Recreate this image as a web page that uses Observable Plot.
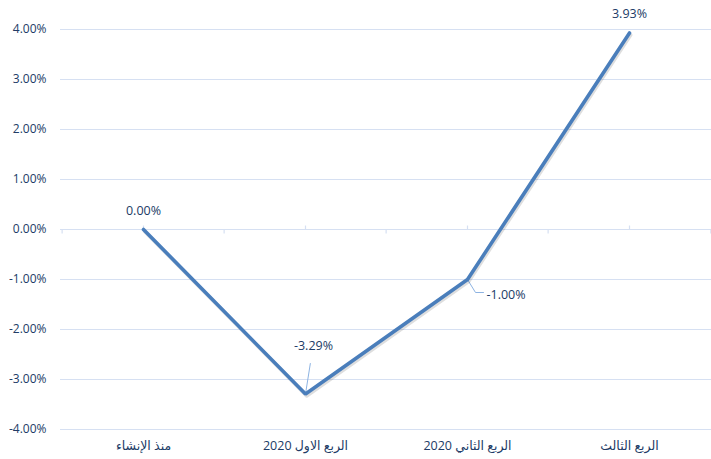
<!DOCTYPE html>
<html><head><meta charset="utf-8">
<script src="https://cdn.jsdelivr.net/npm/d3@7"></script>
<script src="https://cdn.jsdelivr.net/npm/@observablehq/plot@0.6"></script>
<style>
html,body{margin:0;padding:0;background:#fff;}
#chart svg{display:block;}
</style></head><body><div id="chart"></div>
<script>
// ---- data ----
const categories = ["منذ الإنشاء", "الربع الاول 2020", "الربع الثاني 2020", "الربع الثالث"];
const values = [0, -0.0329, -0.01, 0.0393];
const valueLabels = ["0.00%", "-3.29%", "-1.00%", "3.93%"];
const yTicks = [-0.04, -0.03, -0.02, -0.01, 0, 0.01, 0.02, 0.03, 0.04];

// ---- layout / style ----
const W = 711, H = 459, ML = 60, MR = 0, MT = 29, MB = 30;
const step = (W - ML - MR) / categories.length;
const textColor = "#213B66";
const gridColor = "#D6E0F2";
const lineColor = "#4A7EBB";
const leaderColor = "#8DB3E2";
const font = "'Open Sans','DejaVu Sans',sans-serif";
const labelOffsets = [
  {dx: 0, dy: -19, anchor: "middle"},
  {dx: 8, dy: -48, anchor: "middle"},
  {dx: 19, dy: 15, anchor: "start"},
  {dx: 0, dy: -19, anchor: "middle"}
];

const data = categories.map((c, i) => ({cat: c, v: values[i], label: valueLabels[i], i}));
const pct = d => d3.format(".2%")(d).replace("\u2212", "-");

const leaderStraight = {draw(ctx, l) { ctx.moveTo(0, 0); ctx.lineTo(0, -l); }};
const leaderElbow = {draw(ctx) { ctx.moveTo(0, 0); ctx.lineTo(8, 13); ctx.lineTo(16, 13); }};

const chart = Plot.plot({
  width: W, height: H,
  marginLeft: ML, marginRight: MR, marginTop: MT, marginBottom: MB,
  style: {fontFamily: font, fontSize: "12px", color: textColor, background: "#fff"},
  x: {type: "point", domain: categories, padding: 0.5},
  y: {domain: [-0.04, 0.04]},
  marks: [
    Plot.ruleY(yTicks, {stroke: gridColor, strokeWidth: 1.2}),
    // boundary ticks (below zero line)
    Plot.ruleX(categories, {x: d => d, y1: 0, y2: -0.0009, dx: -step / 2, stroke: gridColor, strokeWidth: 1.2}),
    Plot.ruleX(categories.slice(-1), {x: d => d, y1: 0, y2: -0.0009, dx: step / 2, stroke: gridColor, strokeWidth: 1.2}),
    // center ticks (above zero line)
    Plot.ruleX(categories, {x: d => d, y1: 0, y2: 0.0007, stroke: gridColor, strokeWidth: 1.2}),
    Plot.axisY({ticks: yTicks, tickFormat: pct, tickSize: 0, tickPadding: 14, label: null, fill: textColor, fontSize: 12}),
    Plot.axisX({tickSize: 0, tickPadding: 12, label: null, fill: textColor, fontSize: 12.5}),
    // leader lines
    Plot.vector(data.filter(d => d.i === 1), {x: "cat", y: "v", length: 31, rotate: 9, anchor: "start", shape: leaderStraight, stroke: leaderColor, strokeWidth: 1}),
    Plot.vector(data.filter(d => d.i === 2), {x: "cat", y: "v", length: 10, rotate: 0, anchor: "start", shape: leaderElbow, stroke: leaderColor, strokeWidth: 1}),
    // shadow
    Plot.line(data, {x: "cat", y: "v", stroke: "#000", strokeOpacity: 0.13, strokeWidth: 3.5, dx: 1.2, dy: 2, strokeLinecap: "round"}),
    Plot.line(data, {x: "cat", y: "v", stroke: lineColor, strokeWidth: 3.6, strokeLinecap: "round", strokeLinejoin: "miter"}),
    ...labelOffsets.map((o, i) => Plot.text(data.filter(d => d.i === i), {
      x: "cat", y: "v", text: "label", dx: o.dx, dy: o.dy, textAnchor: o.anchor,
      fill: textColor, fontSize: 12.5
    }))
  ]
});
// Arabic labels read right-to-left
d3.select(chart).selectAll('g[aria-label="x-axis tick label"] text')
  .attr("direction", "rtl").style("unicode-bidi", "embed");
document.getElementById("chart").appendChild(chart);
</script>
</body></html>
